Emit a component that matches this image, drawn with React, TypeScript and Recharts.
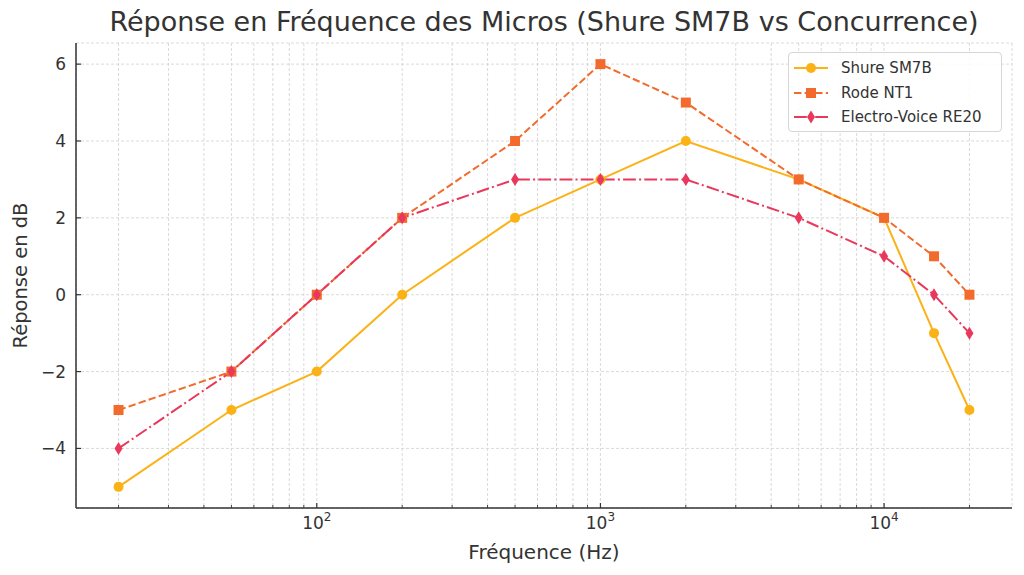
import React from "react";
import { CartesianGrid, Legend, Line, LineChart, XAxis, YAxis } from "recharts";

const frequencies = [20, 50, 100, 200, 500, 1000, 2000, 5000, 10000, 15000, 20000];
const shureSM7B = [-5, -3, -2, 0, 2, 3, 4, 3, 2, -1, -3];
const rodeNT1 = [-3, -2, 0, 2, 4, 6, 5, 3, 2, 1, 0];
const electroVoiceRE20 = [-4, -2, 0, 2, 3, 3, 3, 2, 1, 0, -1];

const majorTicks = [100, 1000, 10000];
const minorTicks = [
  20, 30, 40, 50, 60, 70, 80, 90,
  200, 300, 400, 500, 600, 700, 800, 900,
  2000, 3000, 4000, 5000, 6000, 7000, 8000, 9000,
  20000,
];
const yTicks = [-4, -2, 0, 2, 4, 6];

const FONT = "'DejaVu Sans', sans-serif";
const TEXT = "#333333";
const SHURE = "#fbb216";
const RODE = "#f26b2c";
const EV = "#e8385c";

const data = frequencies.map((freq, i) => ({
  freq,
  shure: shureSM7B[i],
  rode: rodeNT1[i],
  ev: electroVoiceRE20[i],
}));

const xTicks = [...minorTicks, ...majorTicks].sort((a, b) => a - b);

// x ticks point inward (up), labels only on decades
function FreqTick({ x, y, payload }: any) {
  const v = payload.value;
  const major = majorTicks.includes(v);
  const exp = Math.round(Math.log10(v));
  const axisY = y - 8;
  return (
    <g>
      <line x1={x} x2={x} y1={axisY} y2={axisY - (major ? 5 : 3)} stroke={TEXT} strokeWidth={major ? 1.2 : 0.9} />
      {major && (
        <text x={x} y={y + 13} textAnchor="middle" fontFamily={FONT} fontSize={17} fill={TEXT}>
          <tspan>10</tspan>
          <tspan dy={-8} fontSize={12}>{exp}</tspan>
        </text>
      )}
    </g>
  );
}

function DbTick({ x, y, payload }: any) {
  const axisX = x + 10;
  return (
    <g>
      <line x1={axisX} x2={axisX + 5} y1={y} y2={y} stroke={TEXT} strokeWidth={1.2} />
      <text x={x} y={y} dy="0.35em" textAnchor="end" fontFamily={FONT} fontSize={17} fill={TEXT}>
        {String(payload.value).replace("-", "\u2212")}
      </text>
    </g>
  );
}

function Circle({ cx, cy, color }: any) {
  return <circle cx={cx} cy={cy} r={5} fill={color} />;
}

function Square({ cx, cy, color }: any) {
  return <rect x={cx - 5} y={cy - 5} width={10} height={10} fill={color} />;
}

function Diamond({ cx, cy, color }: any) {
  return <path d={`M${cx},${cy - 6.5} L${cx + 4},${cy} L${cx},${cy + 6.5} L${cx - 4},${cy} Z`} fill={color} />;
}

const legendItems = [
  { label: "Shure SM7B", color: SHURE, dash: undefined, Marker: Circle },
  { label: "Rode NT1", color: RODE, dash: "7.4 3.2", Marker: Square },
  { label: "Electro-Voice RE20", color: EV, dash: "12.8 3.2 2 3.2", Marker: Diamond },
];

function LegendBox() {
  return (
    <div
      style={{
        width: 214,
        height: 80,
        background: "rgba(255,255,255,0.85)",
        border: "1px solid #d6d6d6",
        borderRadius: 4,
        boxSizing: "border-box",
        paddingTop: 3,
      }}
    >
      {legendItems.map(({ label, color, dash, Marker }) => (
        <div key={label} style={{ display: "flex", alignItems: "center", height: 24.5 }}>
          <svg width={48} height={20} style={{ marginLeft: 4 }}>
            <line x1={1} x2={35} y1={10} y2={10} stroke={color} strokeWidth={2} strokeDasharray={dash} />
            <Marker cx={18} cy={10} color={color} />
          </svg>
          <span style={{ fontFamily: FONT, fontSize: 15, color: TEXT }}>{label}</span>
        </div>
      ))}
    </div>
  );
}

export default function App() {
  return (
    <div style={{ position: "absolute", left: 0, top: 0, width: 1024, height: 575, background: "#fff" }}>
      <div
        style={{
          position: "absolute",
          left: 76,
          width: 936,
          top: 6,
          textAlign: "center",
          fontFamily: FONT,
          fontSize: 27,
          color: TEXT,
          whiteSpace: "nowrap",
        }}
      >
        Réponse en Fréquence des Micros (Shure SM7B vs Concurrence)
      </div>
      <LineChart width={1024} height={575} data={data} margin={{ top: 43, right: 12, bottom: 37, left: 16 }}>
        <CartesianGrid stroke="#d0d0d0" strokeDasharray="3 2" strokeWidth={0.8} />
        <XAxis
          dataKey="freq"
          type="number"
          scale="log"
          domain={[14.16, 28250]}
          allowDataOverflow
          ticks={xTicks}
          interval={0}
          tick={<FreqTick />}
          tickLine={false}
          axisLine={{ stroke: TEXT, strokeWidth: 1.5 }}
          height={30}
          label={{ value: "Fréquence (Hz)", position: "insideBottom", offset: -21, fontFamily: FONT, fontSize: 20, fill: TEXT }}
        />
        <YAxis
          type="number"
          domain={[-5.55, 6.55]}
          allowDataOverflow
          ticks={yTicks}
          width={60}
          tick={<DbTick />}
          tickLine={false}
          tickSize={0}
          tickMargin={10}
          axisLine={{ stroke: TEXT, strokeWidth: 1.5 }}
          label={{
            value: "Réponse en dB",
            angle: -90,
            position: "insideLeft",
            offset: 4,
            style: { textAnchor: "middle" },
            fontFamily: FONT,
            fontSize: 19.5,
            fill: TEXT,
          }}
        />
        <Legend
          layout="horizontal"
          verticalAlign="middle"
          align="center"
          content={<LegendBox />}
          wrapperStyle={{ position: "absolute", top: 52, left: 788, width: 214 }}
        />
        <Line
          dataKey="shure"
          name="Shure SM7B"
          stroke={SHURE}
          strokeWidth={2}
          isAnimationActive={false}
          dot={(p: any) => <Circle key={`s${p.index}`} cx={p.cx} cy={p.cy} color={SHURE} />}
          activeDot={false}
        />
        <Line
          dataKey="rode"
          name="Rode NT1"
          stroke={RODE}
          strokeWidth={2}
          strokeDasharray="7.4 3.2"
          isAnimationActive={false}
          dot={(p: any) => <Square key={`r${p.index}`} cx={p.cx} cy={p.cy} color={RODE} />}
          activeDot={false}
        />
        <Line
          dataKey="ev"
          name="Electro-Voice RE20"
          stroke={EV}
          strokeWidth={2}
          strokeDasharray="12.8 3.2 2 3.2"
          isAnimationActive={false}
          dot={(p: any) => <Diamond key={`e${p.index}`} cx={p.cx} cy={p.cy} color={EV} />}
          activeDot={false}
        />
      </LineChart>
    </div>
  );
}
